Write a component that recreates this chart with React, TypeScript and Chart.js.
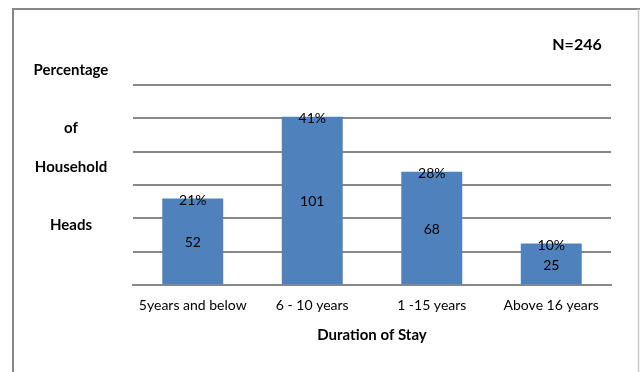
import React, { useEffect, useRef } from "react";
import { Chart, registerables } from "chart.js";

Chart.register(...registerables);

const categories = ["5years and below", "6 - 10 years", "1 -15 years", "Above 16 years"];
const counts = [52, 101, 68, 25];
const percentLabels = ["21%", "41%", "28%", "10%"];
const yTitleLines = ["Percentage", "of", "Household", "Heads"];
const yTitleY = [70, 128, 167, 225];
const sampleLabel = "N=246";
const xTitle = "Duration of Stay";

const FONT = "Lato, 'Open Sans', sans-serif";

export default function App() {
  const ref = useRef<HTMLCanvasElement>(null);
  useEffect(() => {
    document.body.style.margin = "0";
    const canvas = ref.current!;
    const decor = {
      id: "decor",
      beforeDraw(chart: any) {
        const ctx = chart.ctx;
        ctx.save();
        ctx.fillStyle = "#ffffff";
        ctx.fillRect(0, 0, chart.width, chart.height);
        ctx.strokeStyle = "#888888";
        ctx.lineWidth = 2;
        ctx.beginPath();
        ctx.moveTo(13, 372);
        ctx.lineTo(13, 9);
        ctx.lineTo(640, 9);
        ctx.stroke();
        ctx.strokeStyle = "#c8c8c8";
        ctx.lineWidth = 1.5;
        ctx.beginPath();
        ctx.moveTo(638.5, 9);
        ctx.lineTo(638.5, 372);
        ctx.stroke();
        ctx.restore();
      },
      afterDraw(chart: any) {
        const ctx = chart.ctx;
        ctx.save();
        ctx.fillStyle = "#000000";
        ctx.textAlign = "center";
        ctx.textBaseline = "middle";
        ctx.font = `bold 15px ${FONT}`;
        yTitleLines.forEach((t, i) => ctx.fillText(t, 71, yTitleY[i]));
        ctx.font = `bold 16px ${FONT}`;
        ctx.fillText(sampleLabel, 577, 45);
        const meta = chart.getDatasetMeta(0);
        ctx.font = `14px ${FONT}`;
        meta.data.forEach((bar: any, i: number) => {
          const base = chart.scales.y.getPixelForValue(0);
          ctx.fillText(String(counts[i]), bar.x, (bar.y + base) / 2 + 1);
          ctx.fillText(percentLabels[i], bar.x, bar.y + 2);
        });
        ctx.restore();
      },
    };
    const chart = new Chart(canvas, {
      type: "bar",
      data: {
        labels: categories,
        datasets: [
          {
            data: counts,
            backgroundColor: "#4F81BD",
            borderWidth: 0,
            barPercentage: 0.51,
            categoryPercentage: 1,
          },
        ],
      },
      options: {
        responsive: false,
        animation: false,
        layout: { padding: { left: 133, right: 29, top: 85, bottom: 28 } },
        plugins: {
          legend: { display: false },
          tooltip: { enabled: false },
          title: { display: false },
        },
        scales: {
          x: {
            grid: { display: false, drawTicks: false },
            border: { color: "#888888", width: 2 },
            ticks: {
              color: "#000000",
              font: { family: FONT, size: 14 },
              padding: 12,
              maxRotation: 0,
            },
            title: {
              display: true,
              text: xTitle,
              color: "#000000",
              font: { family: FONT, size: 15, weight: "bold" },
              padding: { top: 0, bottom: 0 },
            },
          },
          y: {
            min: 0,
            max: 120,
            ticks: { display: false, stepSize: 20 },
            grid: { color: "#888888", lineWidth: 2, drawTicks: false },
            border: { display: false },
          },
        },
      },
      plugins: [decor],
    });
    return () => chart.destroy();
  }, []);
  return <canvas ref={ref} width={640} height={372} style={{ display: "block" }} />;
}
